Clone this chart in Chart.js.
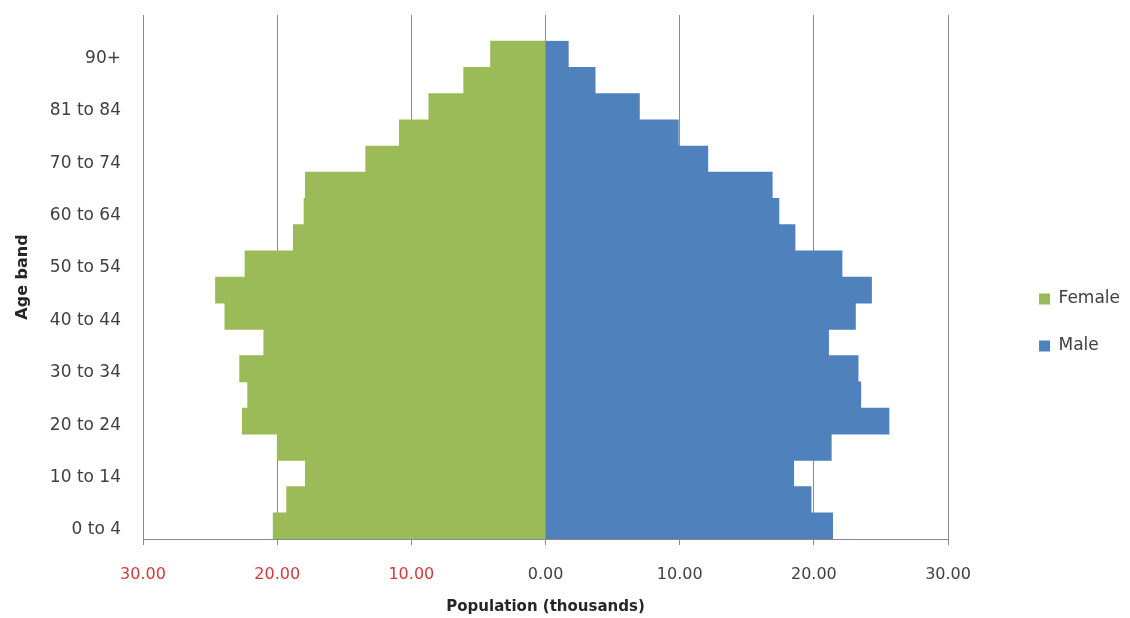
<!DOCTYPE html>
<html>
<head>
<meta charset="utf-8">
<script src="https://cdn.jsdelivr.net/npm/chart.js@4.4.1/dist/chart.umd.min.js"></script>
<style>
  html, body { margin: 0; padding: 0; background: #ffffff; }
  #wrap { width: 1130px; height: 618px; position: relative; }
</style>
</head>
<body>
<div id="wrap"><canvas id="pyramid"></canvas></div>
<script>
// Age bands, youngest first (last slot is the empty band Excel leaves at the top)
const ageBands = ['0 to 4', '5 to 9', '10 to 14', '15 to 19', '20 to 24', '25 to 29',
    '30 to 34', '35 to 39', '40 to 44', '45 to 49', '50 to 54', '55 to 59',
    '60 to 64', '65 to 69', '70 to 74', '75 to 80', '81 to 84', '85 to 89', '90+', ''];

// Population in thousands
const femaleValues = [20.3, 19.3, 17.9, 20.0, 22.6, 22.2, 22.8, 21.0, 23.9, 24.6,
    22.4, 18.8, 18.0, 17.9, 13.4, 10.9, 8.7, 6.1, 4.1, null];
const maleValues = [21.4, 19.8, 18.5, 21.3, 25.6, 23.5, 23.3, 21.1, 23.1, 24.3,
    22.1, 18.6, 17.4, 16.9, 12.1, 9.9, 7.0, 3.7, 1.7, null];

const xTicks = [-30, -20, -10, 0, 10, 20, 30];

const colors = {
    female: '#9bbb59',
    male: '#4f81bd',
    grid: '#8a8a8a',
    text: '#404040',
    negative: '#d23a3a'
};

const fontFamily = '"DejaVu Sans", sans-serif';

// nudges the legend down so it sits where Excel put it
const legendShift = {
    id: 'legendShift',
    afterLayout(chart) {
        const lg = chart.legend;
        if (!lg) return;
        lg.top += 6;
        lg.bottom += 6;
    }
};

const ctx = document.getElementById('pyramid').getContext('2d');
new Chart(ctx, {
    type: 'bar',
    data: {
        labels: ageBands,
        datasets: [
            {
                label: 'Female',
                data: femaleValues.map(v => v === null ? null : -v),
                backgroundColor: colors.female,
                borderWidth: 0,
                barPercentage: 1,
                categoryPercentage: 1
            },
            {
                label: 'Male',
                data: maleValues,
                backgroundColor: colors.male,
                borderWidth: 0,
                barPercentage: 1,
                categoryPercentage: 1
            }
        ]
    },
    options: {
        indexAxis: 'y',
        responsive: true,
        maintainAspectRatio: false,
        animation: false,
        layout: { padding: { top: 15, right: 0, bottom: 0, left: 0 } },
        plugins: {
            tooltip: { enabled: false },
            legend: {
                position: 'right',
                labels: {
                    boxWidth: 11,
                    boxHeight: 11,
                    padding: 30,
                    color: colors.text,
                    font: { family: fontFamily, size: 17 }
                }
            }
        },
        scales: {
            x: {
                type: 'linear',
                stacked: true,
                min: -30,
                max: 30,
                afterBuildTicks: scale => { scale.ticks = xTicks.map(v => ({ value: v })); },
                afterFit: scale => { scale.height = 79; },
                grid: {
                    color: colors.grid,
                    lineWidth: 1,
                    drawTicks: true,
                    tickLength: 6
                },
                border: { display: true, color: colors.grid },
                ticks: {
                    padding: 20,
                    font: { family: fontFamily, size: 16 },
                    color: c => c.tick.value < 0 ? colors.negative : colors.text,
                    callback: v => Math.abs(v).toFixed(2)
                },
                title: {
                    display: true,
                    text: 'Population (thousands)',
                    color: '#262626',
                    font: { family: fontFamily, size: 15, weight: 'bold' },
                    padding: { top: 2, bottom: 2 }
                }
            },
            y: {
                stacked: true,
                reverse: true,
                afterFit: scale => {
                    scale.width = 143;
                    scale.paddingTop = 0;
                    scale.paddingBottom = 0;
                },
                grid: { display: false },
                border: { display: false },
                ticks: {
                    autoSkip: false,
                    padding: 14,
                    labelOffset: 4,
                    font: { family: fontFamily, size: 17 },
                    color: colors.text,
                    callback: function (value, index) {
                        return index % 2 === 0 ? this.getLabelForValue(value) : '';
                    }
                },
                title: {
                    display: true,
                    text: 'Age band',
                    color: '#262626',
                    font: { family: fontFamily, size: 16, weight: 'bold' },
                    padding: { top: 13, bottom: 0 }
                }
            },
            yPad: {
                type: 'linear',
                axis: 'y',
                position: 'right',
                display: true,
                grid: { display: false },
                border: { display: false },
                ticks: { display: false },
                afterFit: scale => {
                    scale.width = 61;
                    scale.paddingTop = 0;
                    scale.paddingBottom = 0;
                }
            }
        }
    },
    plugins: [legendShift]
});
</script>
</body>
</html>
